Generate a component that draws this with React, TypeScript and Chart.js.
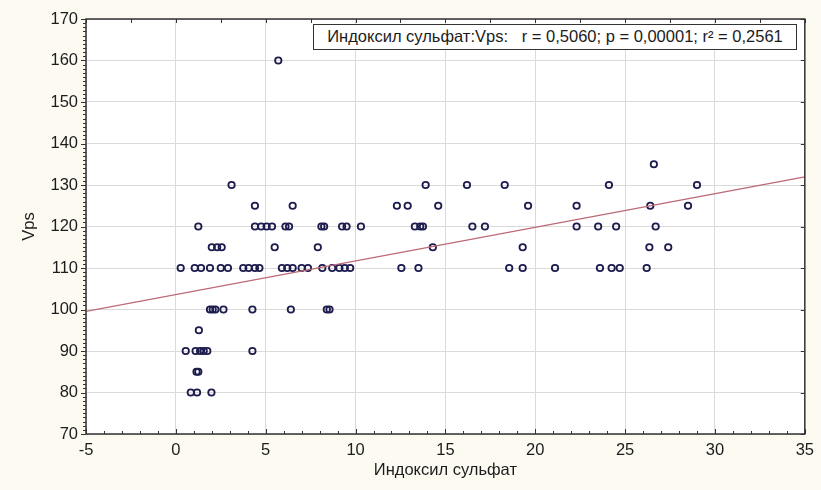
import { useEffect, useRef } from "react";
import { Chart, registerables } from "chart.js";

Chart.register(...registerables);

// Vps levels and the Индоксил сульфат values observed at each level
const vpsLevels = [160, 135, 130, 125, 120, 115, 110, 100, 95, 90, 85, 80];

const indoxylAt160 = [5.7];
const indoxylAt135 = [26.6];
const indoxylAt130 = [3.1, 13.9, 16.2, 18.3, 24.1, 29.0];
const indoxylAt125 = [4.4, 6.5, 12.3, 12.9, 14.6, 19.6, 22.3, 26.4, 28.5];
const indoxylAt120 = [
  1.25, 4.4, 4.75, 5.05, 5.35, 6.1, 6.3, 8.1, 8.25, 9.25, 9.5, 10.3,
  13.3, 13.6, 13.75, 16.5, 17.2, 22.3, 23.5, 24.5, 26.7,
];
const indoxylAt115 = [2.0, 2.3, 2.55, 5.5, 7.9, 14.3, 19.3, 26.35, 27.4];
const indoxylAt110 = [
  0.27, 1.05, 1.4, 1.9, 2.5, 2.9, 3.75, 4.05, 4.4, 4.65, 5.9, 6.2, 6.5,
  7.0, 7.35, 8.15, 8.7, 9.1, 9.4, 9.7, 12.55, 13.5, 18.55, 19.3, 21.1,
  23.6, 24.25, 24.7, 26.2,
];
const indoxylAt100 = [1.9, 2.05, 2.2, 2.65, 4.26, 6.4, 8.4, 8.55];
const indoxylAt95 = [1.28];
const indoxylAt90 = [0.55, 1.1, 1.35, 1.55, 1.75, 4.26];
const indoxylAt85 = [1.15, 1.25];
const indoxylAt80 = [0.83, 1.18, 1.98];

const indoxylByLevel = [
  indoxylAt160, indoxylAt135, indoxylAt130, indoxylAt125, indoxylAt120, indoxylAt115,
  indoxylAt110, indoxylAt100, indoxylAt95, indoxylAt90, indoxylAt85, indoxylAt80,
];

// Axis ranges
const X_MIN = -5;
const X_MAX = 35;
const X_STEP = 5;
const Y_MIN = 70;
const Y_MAX = 170;
const Y_STEP = 10;

// Least-squares line Vps = a + b * x
const fitIntercept = 103.6;
const fitSlope = 0.81;
const fitX = [X_MIN, X_MAX];

const statsText = "Индоксил сульфат:Vps:   r = 0,5060; p = 0,00001; r² = 0,2561";
const xTitle = "Индоксил сульфат";
const yTitle = "Vps";

const FONT = "'Liberation Sans', Arial, sans-serif";
const TEXT_SIZE = 16.5;
const TEXT_COLOR = "#1c1c1c";

const plotBackground = {
  id: "plotBackground",
  beforeDraw(chart: any) {
    const { ctx, chartArea: a } = chart;
    ctx.save();
    ctx.fillStyle = "#ffffff";
    ctx.fillRect(a.left, a.top, a.width, a.height);
    ctx.restore();
  },
};

// Frame around the plot area with the small tick marks on all four sides
const frameTicks = {
  id: "frameTicks",
  afterDatasetsDraw(chart: any) {
    const { ctx, chartArea: a, scales } = chart;
    const xs = scales.x;
    const ys = scales.y;
    ctx.save();
    ctx.strokeStyle = "#333333";
    ctx.lineWidth = 1;
    ctx.beginPath();
    // left side: every unit, pointing outwards
    for (let v = Y_MIN; v <= Y_MAX; v += 1) {
      const py = Math.round(ys.getPixelForValue(v)) + 0.5;
      const len = v % Y_STEP === 0 ? 5 : 3;
      ctx.moveTo(a.left - len, py);
      ctx.lineTo(a.left, py);
    }
    // right side: major steps, pointing inwards
    for (let v = Y_MIN; v <= Y_MAX; v += Y_STEP) {
      const py = Math.round(ys.getPixelForValue(v)) + 0.5;
      ctx.moveTo(a.right, py);
      ctx.lineTo(a.right - 4, py);
    }
    // bottom side: every unit, pointing inwards
    for (let v = X_MIN; v <= X_MAX; v += 1) {
      const px = Math.round(xs.getPixelForValue(v)) + 0.5;
      const len = v % X_STEP === 0 ? 5 : 3;
      ctx.moveTo(px, a.bottom);
      ctx.lineTo(px, a.bottom - len);
    }
    // top side: every half step, pointing inwards
    for (let i = 0; i <= ((X_MAX - X_MIN) / X_STEP) * 2; i++) {
      const v = X_MIN + (i * X_STEP) / 2;
      const px = Math.round(xs.getPixelForValue(v)) + 0.5;
      ctx.moveTo(px, a.top);
      ctx.lineTo(px, a.top + 4);
    }
    ctx.stroke();
    ctx.lineWidth = 1.5;
    ctx.strokeRect(a.left, a.top, a.width, a.height);
    ctx.restore();
  },
};

export default function App() {
  const canvasRef = useRef<HTMLCanvasElement | null>(null);

  useEffect(() => {
    const canvas = canvasRef.current;
    if (!canvas) return;

    const points = vpsLevels.flatMap((level, i) =>
      indoxylByLevel[i].map((x) => ({ x, y: level }))
    );
    const fitLine = fitX.map((x) => ({ x, y: fitIntercept + fitSlope * x }));

    const chart = new Chart(canvas, {
      type: "scatter",
      data: {
        datasets: [
          {
            type: "line",
            label: "fit",
            data: fitLine,
            borderColor: "#bb6a76",
            borderWidth: 1.4,
            pointRadius: 0,
            fill: false,
            order: 0,
          },
          {
            type: "scatter",
            label: "Vps",
            data: points,
            pointRadius: 3.2,
            pointBorderWidth: 1.8,
            pointBackgroundColor: "rgba(0,0,0,0)",
            pointBorderColor: "#1c1c4e",
            order: 1,
          },
        ],
      },
      plugins: [plotBackground, frameTicks],
      options: {
        responsive: false,
        animation: false,
        layout: { padding: { left: 0, top: 19, right: 9, bottom: 0 } },
        plugins: {
          legend: { display: false },
          tooltip: { enabled: false },
        },
        scales: {
          x: {
            type: "linear",
            min: X_MIN,
            max: X_MAX,
            afterFit: (scale: any) => {
              scale.height = 56;
            },
            ticks: {
              stepSize: X_STEP,
              padding: 7,
              color: TEXT_COLOR,
              font: { family: FONT, size: TEXT_SIZE },
            },
            grid: { color: "#dadada", lineWidth: 1, drawTicks: false },
            border: { display: false },
            title: {
              display: true,
              text: xTitle,
              color: TEXT_COLOR,
              font: { family: FONT, size: TEXT_SIZE },
              padding: { top: 0, bottom: 10 },
            },
          },
          y: {
            type: "linear",
            min: Y_MIN,
            max: Y_MAX,
            afterFit: (scale: any) => {
              scale.width = 86;
            },
            ticks: {
              stepSize: Y_STEP,
              padding: 8,
              color: TEXT_COLOR,
              font: { family: FONT, size: TEXT_SIZE },
            },
            grid: { color: "#dadada", lineWidth: 1, drawTicks: false },
            border: { display: false },
            title: {
              display: true,
              text: yTitle,
              color: TEXT_COLOR,
              font: { family: FONT, size: TEXT_SIZE },
              padding: { top: 20, bottom: 0 },
            },
          },
        },
      },
    });

    return () => chart.destroy();
  }, []);

  return (
    <div
      style={{
        position: "fixed",
        left: 0,
        top: 0,
        width: 821,
        height: 490,
        background: "#fcfaf1",
      }}
    >
      <canvas ref={canvasRef} width={821} height={490} style={{ display: "block" }} />
      <div
        style={{
          position: "absolute",
          left: 313,
          top: 24,
          width: 484,
          height: 26,
          boxSizing: "border-box",
          border: "1.5px solid #333333",
          background: "#ffffff",
          fontFamily: FONT,
          fontSize: 16.5,
          color: TEXT_COLOR,
          lineHeight: "23px",
          textAlign: "center",
          whiteSpace: "pre",
        }}
      >
        {statsText}
      </div>
    </div>
  );
}
